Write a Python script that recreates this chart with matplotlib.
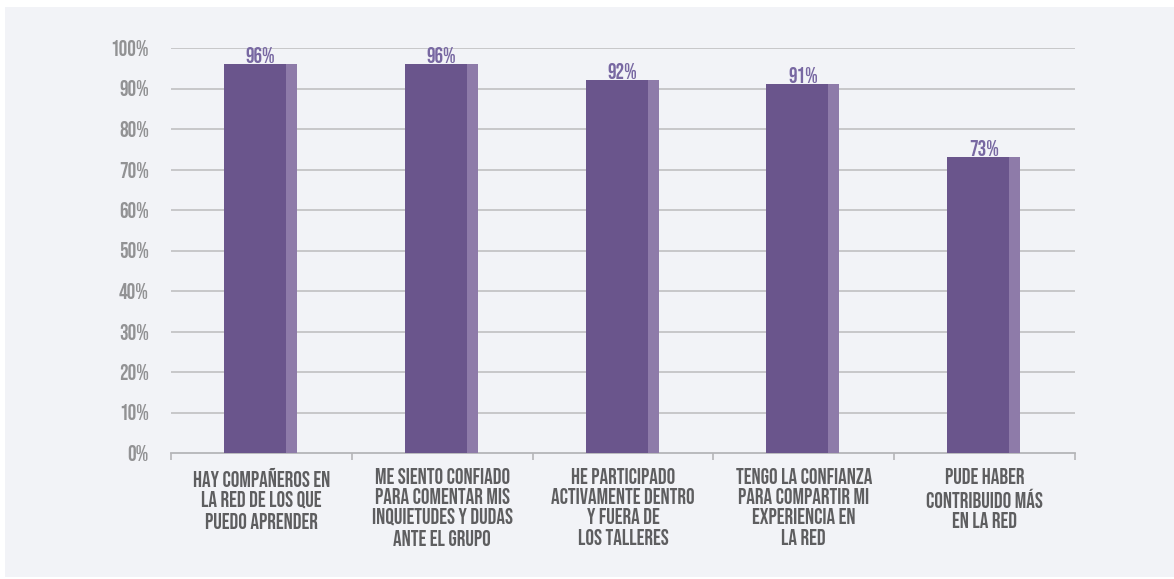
import matplotlib.pyplot as plt
from matplotlib.patches import Rectangle

# respuestas de la encuesta, % de acuerdo
categorias = [
    'HAY COMPAÑEROS EN\nLA RED DE LOS QUE\nPUEDO APRENDER',
    'ME SIENTO CONFIADO\nPARA COMENTAR MIS\nINQUIETUDES Y DUDAS\nANTE EL GRUPO',
    'HE PARTICIPADO\nACTIVAMENTE DENTRO\nY FUERA DE\nLOS TALLERES',
    'TENGO LA CONFIANZA\nPARA COMPARTIR MI\nEXPERIENCIA EN\nLA RED',
    'PUDE HABER\nCONTRIBUIDO MÁS\nEN LA RED',
]
valores = [96, 96, 92, 91, 73]
yticks = list(range(0, 101, 10))

FONT = ['Bebas Neue', 'Oswald', 'DejaVu Sans']
BG = '#f2f3f7'
DARK = '#6a558c'
LIGHT = '#8e7ba9'
GRID = '#c4c4c6'

fig = plt.figure(figsize=(11.74, 5.79), dpi=100)
fig.patch.set_facecolor('white')
# panel gris claro de fondo
fig.patches.append(Rectangle((5 / 1174, 0.003), 1.0, 1 - 7 / 579 - 0.003,
                             transform=fig.transFigure, facecolor=BG,
                             edgecolor='none', zorder=-10))

ax = fig.add_axes([171 / 1174, 126 / 579, 904 / 1174, 405 / 579])
ax.patch.set_alpha(0)

x = list(range(len(valores)))
ax.bar([i - 0.207 for i in x], valores, width=0.343, align='edge',
       color=DARK, zorder=3)
ax.bar([i + 0.136 for i in x], valores, width=0.061, align='edge',
       color=LIGHT, zorder=3)

for i, v in zip(x, valores):
    ax.text(i - 0.005, v + 0.3, f'{v}%', ha='center', va='bottom',
            fontsize=15.5, color='#7868a2', family=FONT, zorder=4)

ax.set_xlim(-0.5, len(valores) - 0.5)
ax.set_ylim(0, 100)
ax.set_yticks(yticks)
ax.set_yticklabels([f'{t}%' for t in yticks], family=FONT, fontsize=15.5,
                   color='#929294')
for t in yticks[1:]:
    ax.axhline(t, color=GRID, linewidth=1.3, zorder=1)

# separadores de categorías en el eje inferior
ax.set_xticks([i - 0.5 for i in range(len(valores) + 1)])
ax.set_xticklabels([])
ax.tick_params(axis='x', direction='out', length=5, width=1.2, color='#b5b5b8')
ax.tick_params(axis='y', length=0, pad=16)

for i, lab in enumerate(categorias):
    ax.text(i, -3.6, lab, ha='center', va='top', fontsize=15.5,
            color='#5e5e60', family=FONT, linespacing=1.27)

for s in ['top', 'right', 'left']:
    ax.spines[s].set_visible(False)
ax.spines['bottom'].set_color('#b5b5b8')
ax.spines['bottom'].set_linewidth(1.3)

fig.savefig('out.png', dpi=100, facecolor=fig.get_facecolor())
